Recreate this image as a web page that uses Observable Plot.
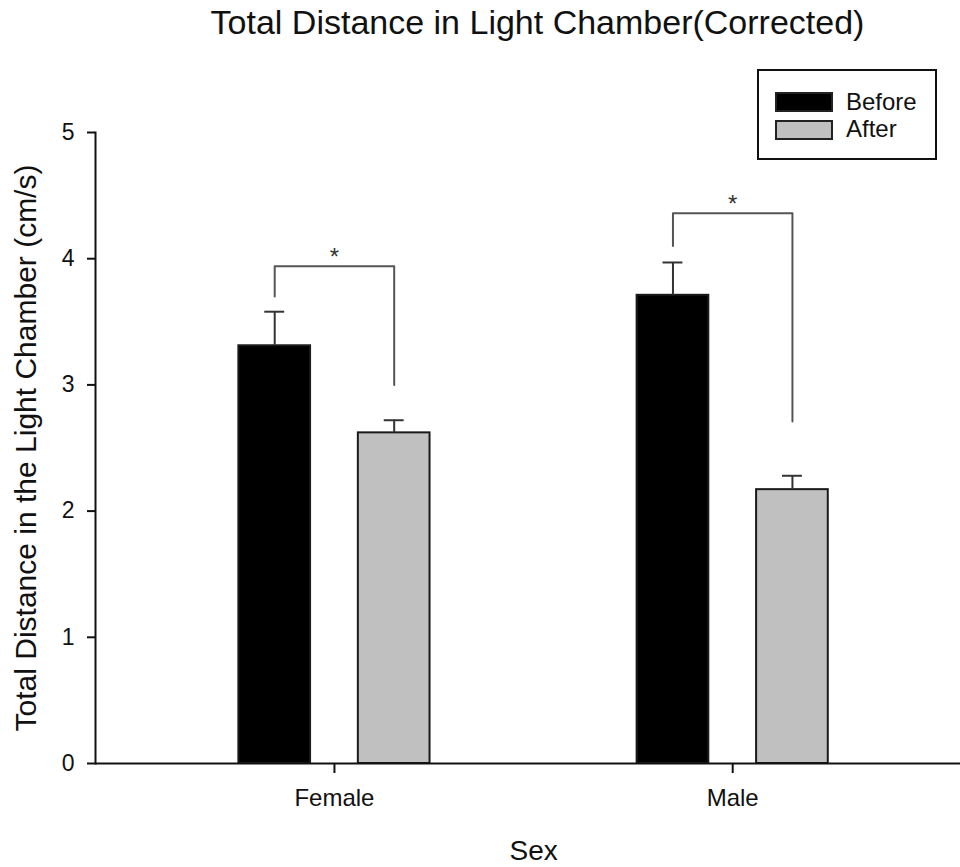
<!DOCTYPE html>
<html>
<head>
<meta charset="utf-8">
<script src="https://cdn.jsdelivr.net/npm/d3@7"></script>
<script src="https://cdn.jsdelivr.net/npm/@observablehq/plot@0.6"></script>
<style>
  body { margin: 0; background: #fff; font-family: "Liberation Sans", Arial, sans-serif; color: #111; }
  #wrap { position: relative; width: 960px; height: 867px; }
  #title { width: 960px; height: 50px; box-sizing: border-box; padding-left: 115px;
           font-size: 34px; line-height: 44px; text-align: center; }
  #legend { position: absolute; left: 757px; top: 69px; width: 180px; height: 91px;
            box-sizing: border-box; border: 2px solid #111; background: #fff; }
  #legend .sw { position: absolute; left: 16px; width: 58px; height: 20px;
                box-sizing: border-box; border: 2px solid #222; }
  #legend .lab { position: absolute; left: 87px; font-size: 24px; line-height: 24px; white-space: nowrap; }
</style>
</head>
<body>
<div id="wrap">
  <div id="title">Total Distance in Light Chamber(Corrected)</div>
  <div id="chart"></div>
  <div id="legend"></div>
</div>
<script>
// Group and series names
const sexes = ["Female", "Male"];
const conditions = ["Before", "After"];

// Mean distance (cm/s) and standard error per group
const before = [3.31, 3.71];
const after = [2.62, 2.17];
const beforeErr = [0.27, 0.26];
const afterErr = [0.10, 0.11];

// Significance brackets: top level and where each leg ends
const bracketTop = [3.94, 4.36];
const bracketLeftEnd = [3.70, 4.10];
const bracketRightEnd = [3.00, 2.71];
const sigMarks = ["*", "*"];

const yTicks = [0, 1, 2, 3, 4, 5];
const yLabel = "Total Distance in the Light Chamber (cm/s)";
const xLabel = "Sex";

// Bars sit either side of each group's centre
const offset = {Before: -0.15, After: 0.15};
const halfBar = 0.09;
const halfCap = 0.025;

const rows = sexes.flatMap((sex, i) => [
  {sex, i, condition: "Before", value: before[i], err: beforeErr[i]},
  {sex, i, condition: "After", value: after[i], err: afterErr[i]}
]);
const xc = (d) => d.i + offset[d.condition];

const bracketPts = sexes.flatMap((sex, i) => [
  {i, x: i + offset.Before, y: bracketLeftEnd[i]},
  {i, x: i + offset.Before, y: bracketTop[i]},
  {i, x: i + offset.After, y: bracketTop[i]},
  {i, x: i + offset.After, y: bracketRightEnd[i]}
]);

const font = '"Liberation Sans", Arial, sans-serif';

const chart = Plot.plot({
  width: 960,
  height: 817,
  marginLeft: 95,
  marginRight: 0,
  marginTop: 82,
  marginBottom: 104,
  style: {fontFamily: font, color: "#111", background: "#fff"},
  x: {domain: [-0.6, 1.572]},
  y: {domain: [0, 5]},
  color: {domain: conditions, range: ["#000000", "#c0c0c0"]},
  marks: [
    Plot.rect(rows, {
      x1: (d) => xc(d) - halfBar,
      x2: (d) => xc(d) + halfBar,
      y1: 0,
      y2: "value",
      fill: "condition",
      stroke: "#1a1a1a",
      strokeWidth: 2
    }),
    Plot.ruleX(rows, {x: xc, y1: "value", y2: (d) => d.value + d.err, stroke: "#333", strokeWidth: 2}),
    Plot.ruleY(rows, {
      y: (d) => d.value + d.err,
      x1: (d) => xc(d) - halfCap,
      x2: (d) => xc(d) + halfCap,
      stroke: "#333",
      strokeWidth: 2
    }),
    Plot.line(bracketPts, {x: "x", y: "y", z: "i", stroke: "#555", strokeWidth: 2}),
    Plot.text(sexes, {
      x: (d, i) => i,
      y: (d, i) => bracketTop[i],
      text: (d, i) => sigMarks[i],
      lineAnchor: "bottom",
      dy: -1,
      fontSize: 24,
      fill: "#333"
    }),
    Plot.axisY({
      ticks: yTicks,
      tickFormat: (d) => String(d),
      tickSize: 8,
      tickPadding: 13,
      fontSize: 23,
      label: null,
      strokeWidth: 2
    }),
    Plot.axisX({
      ticks: sexes.map((d, i) => i),
      tickFormat: (i) => sexes[i],
      tickSize: 10,
      tickPadding: 15,
      fontSize: 24,
      label: null,
      strokeWidth: 2
    }),
    Plot.ruleY([0], {stroke: "#111", strokeWidth: 2}),
    Plot.frame({anchor: "left", stroke: "#111", strokeWidth: 2}),
    Plot.text([yLabel], {
      text: (d) => d,
      frameAnchor: "left",
      textAnchor: "middle",
      rotate: -90,
      dx: -60,
      lineAnchor: "bottom",
      fontSize: 30
    }),
    Plot.text([xLabel], {
      text: (d) => d,
      x: () => (sexes.length - 1) / 2,
      frameAnchor: "bottom",
      textAnchor: "middle",
      dy: 96,
      lineAnchor: "bottom",
      fontSize: 28
    })
  ]
});
document.getElementById("chart").appendChild(chart);

// Legend box drawn from the chart's colour scale
const color = chart.scale("color");
const legend = document.getElementById("legend");
color.domain.forEach((name, k) => {
  const sw = document.createElement("div");
  sw.className = "sw";
  sw.style.top = (21 + k * 28) + "px";
  sw.style.background = color.range[k];
  legend.appendChild(sw);
  const lab = document.createElement("div");
  lab.className = "lab";
  lab.style.top = (19 + k * 27) + "px";
  lab.textContent = name;
  legend.appendChild(lab);
});
</script>
</body>
</html>
